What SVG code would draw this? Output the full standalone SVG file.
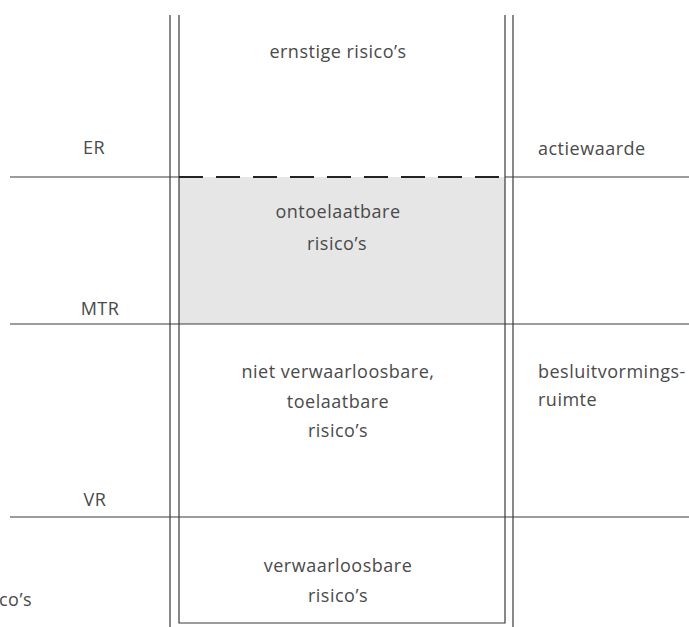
<svg xmlns="http://www.w3.org/2000/svg" width="689" height="627" viewBox="0 0 689 627">
<style>
.ln{stroke:#3a3a3a;stroke-width:1.2;fill:none}
.t{font-family:"Open Sans","Liberation Sans",sans-serif;font-size:18px;letter-spacing:0.5px;fill:#4a4a4a}
.c{text-anchor:middle}
</style>
<rect width="689" height="627" fill="#fff"/>
<g id="zone-ontoelaatbaar"><rect x="179" y="177" width="326" height="147" fill="#e6e6e6"/></g>
<g id="connectors">
<line class="ln" x1="170" y1="15" x2="170" y2="627"/>
<line class="ln" x1="513" y1="15" x2="513" y2="627"/>
<polyline class="ln" points="179,15 179,623 505,623 505,15"/>
<line class="ln" x1="10" y1="177" x2="179" y2="177"/>
<line class="ln" x1="505" y1="177" x2="689" y2="177"/>
<line x1="179" y1="177" x2="505" y2="177" stroke="#222" stroke-width="2.2" stroke-dasharray="24,13"/>
<line class="ln" x1="10" y1="324" x2="689" y2="324"/>
<line class="ln" x1="10" y1="517" x2="689" y2="517"/>
</g>
<g id="ER"><text class="t c" x="94" y="154">ER</text></g>
<g id="MTR"><text class="t c" x="100" y="315">MTR</text></g>
<g id="VR"><text class="t c" x="95" y="506">VR</text></g>
<g id="ernstig"><text class="t c" x="338" y="58">ernstige risico’s</text></g>
<g id="ontoelaatbaar"><text class="t c" x="338" y="218">ontoelaatbare</text><text class="t c" x="337" y="250">risico’s</text></g>
<g id="niet-verwaarloosbaar"><text class="t c" x="338" y="378">niet verwaarloosbare,</text><text class="t c" x="338" y="408">toelaatbare</text><text class="t c" x="338" y="437">risico’s</text></g>
<g id="verwaarloosbaar"><text class="t c" x="338" y="572">verwaarloosbare</text><text class="t c" x="338" y="602">risico’s</text></g>
<g id="actiewaarde"><text class="t" x="538" y="155">actiewaarde</text></g>
<g id="besluitvorming"><text class="t" x="538" y="378">besluitvormings-</text><text class="t" x="538" y="406">ruimte</text></g>
<g id="cut"><text class="t" x="-1" y="606">co’s</text></g>
</svg>
